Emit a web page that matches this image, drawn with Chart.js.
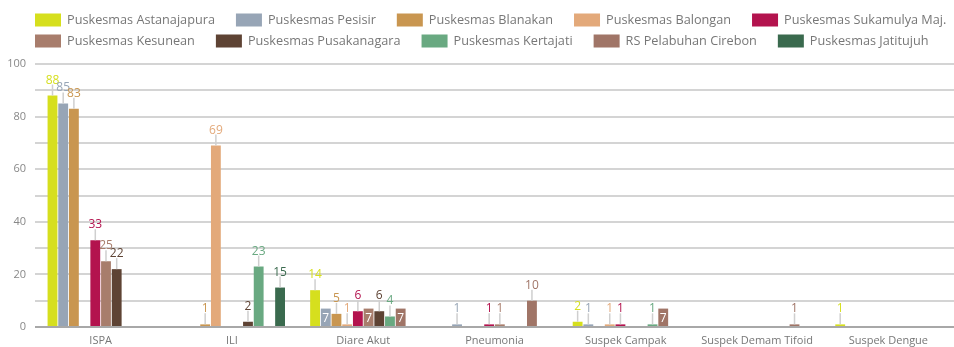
<!DOCTYPE html>
<html><head><meta charset="utf-8">
<script src="https://cdn.jsdelivr.net/npm/chart.js@4.4.0/dist/chart.umd.min.js"></script>
<style>html,body{margin:0;padding:0;background:#fff}#wrap{width:954px;height:347px;position:relative}</style>
</head><body><div id="wrap"><canvas id="c"></canvas></div>
<script>
const categories = ['ISPA','ILI','Diare Akut','Pneumonia','Suspek Campak','Suspek Demam Tifoid','Suspek Dengue'];
const seriesNames = ['Puskesmas Astanajapura','Puskesmas Pesisir','Puskesmas Blanakan','Puskesmas Balongan','Puskesmas Sukamulya Maj.','Puskesmas Kesunean','Puskesmas Pusakanagara','Puskesmas Kertajati','RS Pelabuhan Cirebon','Puskesmas Jatitujuh'];
const astanajapura = [88, null, 14, null, 2, null, 1];
const pesisir      = [85, null, 7, 1, 1, null, null];
const blanakan     = [83, 1, 5, null, null, null, null];
const balongan     = [null, 69, 1, null, 1, null, null];
const sukamulya    = [33, null, 6, 1, 1, null, null];
const kesunean     = [25, null, 7, 1, null, null, null];
const pusakanagara = [22, 2, 6, null, null, null, null];
const kertajati    = [null, 23, 4, null, 1, null, null];
const rsPelabuhan  = [null, null, 7, 10, 7, 1, null];
const jatitujuh    = [null, 15, null, null, null, null, null];
const yTickLabels  = [0, 20, 40, 60, 80, 100];

const seriesValues = [astanajapura, pesisir, blanakan, balongan, sukamulya, kesunean, pusakanagara, kertajati, rsPelabuhan, jatitujuh];
const seriesColors = ['#d6df1e','#97a5b6','#c99650','#e3a97a','#b3134e','#a87d6c','#5e4334','#69a981','#a07567','#3a6a4e'];
const FONT = '"Open Sans", sans-serif';

const valueLabels = {
  id: 'valueLabels',
  afterDatasetsDraw(chart) {
    const ctx = chart.ctx;
    ctx.save();
    ctx.font = '12px ' + FONT;
    ctx.textAlign = 'center';
    chart.data.datasets.forEach((ds, di) => {
      const meta = chart.getDatasetMeta(di);
      meta.data.forEach((el, i) => {
        const v = ds.data[i];
        if (v === null || v === undefined) return;
        if (v === 7) {
          ctx.fillStyle = '#ffffff';
          ctx.textBaseline = 'middle';
          ctx.fillText(String(v), el.x, (el.y + el.base) / 2 + 1);
        } else {
          ctx.strokeStyle = '#cfcfcf';
          ctx.lineWidth = 1.5;
          ctx.beginPath();
          ctx.moveTo(el.x, el.y);
          ctx.lineTo(el.x, el.y - 11);
          ctx.stroke();
          ctx.fillStyle = ds.backgroundColor;
          ctx.textBaseline = 'alphabetic';
          ctx.fillText(String(v), el.x, el.y - 12);
        }
      });
    });
    ctx.restore();
  }
};

const customLegend = {
  id: 'customLegend',
  afterDraw(chart) {
    const ctx = chart.ctx;
    ctx.save();
    ctx.font = '12.7px ' + FONT;
    ctx.textBaseline = 'middle';
    ctx.textAlign = 'left';
    const rowsY = [20, 41];
    const perRow = 5;
    let lx = 35;
    chart.data.datasets.forEach((ds, i) => {
      const row = Math.floor(i / perRow);
      if (i % perRow === 0) lx = 35;
      const y = rowsY[row];
      ctx.fillStyle = ds.backgroundColor;
      ctx.fillRect(lx, y - 6.5, 26, 13);
      ctx.fillStyle = '#777777';
      ctx.fillText(ds.label, lx + 32, y);
      lx = lx + 32 + ctx.measureText(ds.label).width + 21;
    });
    ctx.restore();
  }
};

new Chart(document.getElementById('c'), {
  type: 'bar',
  data: {
    labels: categories,
    datasets: seriesNames.map((name, i) => ({
      label: name,
      data: seriesValues[i],
      backgroundColor: seriesColors[i],
      borderWidth: 0
    }))
  },
  options: {
    responsive: true,
    maintainAspectRatio: false,
    animation: false,
    layout: { padding: { top: 64, left: 0, right: 0, bottom: 0 } },
    datasets: { bar: { categoryPercentage: 0.815, barPercentage: 0.92 } },
    plugins: { legend: { display: false }, tooltip: { enabled: false } },
    scales: {
      x: {
        grid: { display: false, drawTicks: false },
        border: { display: false },
        ticks: { color: '#777', font: { family: FONT, size: 11 }, padding: 7, maxRotation: 0, autoSkip: false },
        afterFit(s) { s.height = 20; }
      },
      y: {
        min: 0, max: 100,
        grid: {
          color: (c) => c.tick && c.tick.value === 0 ? '#a8a8a8' : '#d4d4d4',
          lineWidth: 2,
          drawTicks: false
        },
        border: { display: false },
        ticks: {
          stepSize: 10,
          color: '#888',
          font: { family: FONT, size: 11 },
          padding: 9,
          callback: (v) => yTickLabels.includes(v) ? String(v) : ''
        },
        afterFit(s) { s.width = 35; }
      }
    }
  },
  plugins: [valueLabels, customLegend]
});
</script></body></html>
